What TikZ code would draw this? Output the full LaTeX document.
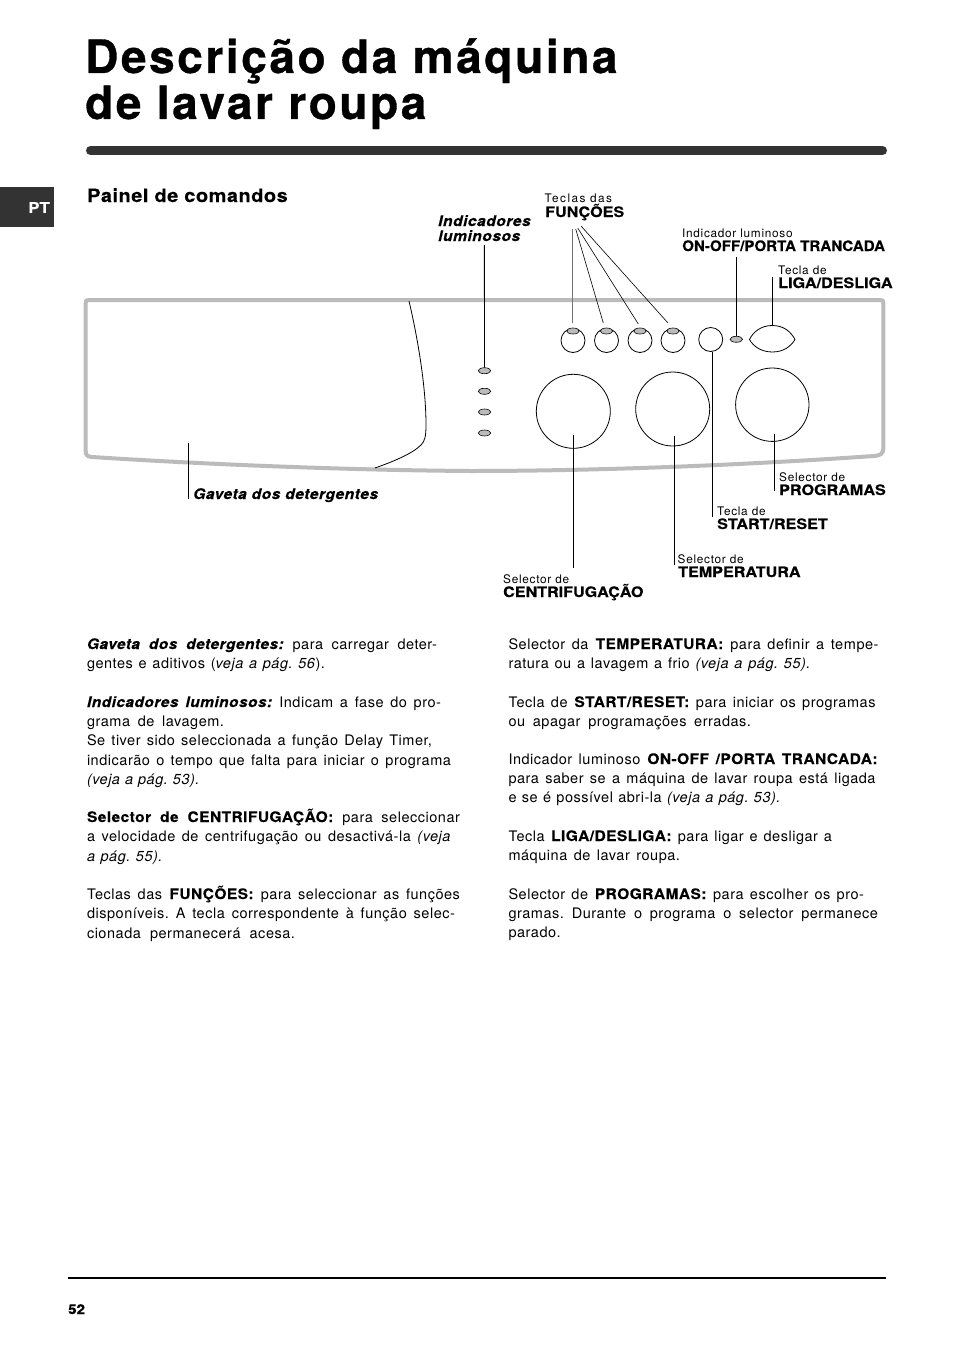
\documentclass[tikz,border=0pt]{standalone}
\usepackage{fontspec}
\usetikzlibrary{shapes.geometric}
\setmainfont{TeX Gyre Heros}[LetterSpace=3.6,BoldFeatures={FakeStretch=1.07,LetterSpace=3,FakeBold=0.2},BoldItalicFeatures={FakeStretch=1.07,LetterSpace=3,FakeBold=0.1}]
\newfontfamily\lblfont{TeX Gyre Heros}[LetterSpace=6]
\newfontfamily\widelbl{TeX Gyre Heros}[LetterSpace=12]
\newfontfamily\strongfont{TeX Gyre Heros}[FakeStretch=1.12,FakeBold=0.35]
\newfontfamily\tightfont{TeX Gyre Heros}[FakeStretch=1.05,FakeBold=0.35]
\newfontfamily\headfont{TeX Gyre Heros}[FakeStretch=1.075,FakeBold=0.1,LetterSpace=3]
\newfontfamily\titlefont{TeX Gyre Heros}[LetterSpace=5.6,FakeBold=0.7]
\definecolor{panelgray}{HTML}{BBBBBB}
\definecolor{ruledark}{HTML}{333333}
\frenchspacing
\newcommand{\bi}[1]{\textbf{\textit{#1}}}
\newcommand{\bl}[1]{\textbf{#1}}
\newcommand{\itl}[1]{\textit{#1}}
\newcommand{\tl}[5]{\node[bodyline] (#1) at (#2,#3) {\makebox[#4pt][s]{#5}};}
\tikzset{
  x=1pt,y=-1pt,
  bodyline/.style={anchor=base west,inner sep=0pt,outer sep=0pt,font=\fontsize{14.5}{17}\selectfont\frenchspacing},
  small/.style={anchor=base west,inner sep=0pt,font=\lblfont\fontsize{11.8}{13}\selectfont},
  strong/.style={anchor=base west,inner sep=0pt,font=\strongfont\bfseries\fontsize{14.4}{16}\selectfont},
  bolditalic/.style={anchor=base west,inner sep=0pt,font=\headfont\bfseries\itshape\fontsize{14.6}{16}\selectfont},
  callout/.style={draw=black,line width=0.9pt},
  thinline/.style={draw=black,line width=0.6pt},
  dial/.style={circle,draw=black,line width=0.8pt,inner sep=0pt,fill=none},
  led/.style={ellipse,draw=black,line width=0.6pt,fill=panelgray,inner sep=0pt,minimum width=12.5pt,minimum height=6pt},
}
\begin{document}
\begin{tikzpicture}
\useasboundingbox (0,0) rectangle (954,1351);
% title
\node[anchor=base west,inner sep=0pt,font=\titlefont\bfseries\fontsize{46}{50}\selectfont] (title1) at (85,73) {Descrição da máquina};
\node[anchor=base west,inner sep=0pt,font=\titlefont\bfseries\fontsize{46}{50}\selectfont] (title2) at (85,119) {de lavar roupa};
\draw[ruledark,line width=9pt,line cap=round] (90.5,150.5) -- (882.5,150.5);
% side tab
\node[anchor=north west,fill=ruledark,minimum width=54pt,minimum height=40pt,inner sep=0pt] (tab) at (0,187) {};
\node[font=\strongfont\bfseries\fontsize{15}{16}\selectfont,text=white,inner sep=0pt] (tabtext) at (39,207.5) {PT};
\node[anchor=base west,inner sep=0pt,font=\headfont\bfseries\fontsize{18.5}{20}\selectfont] (painel) at (87,202) {Painel de comandos};
% panel
\draw[panelgray,line width=4pt,line join=round]
  (85.7,303) .. controls (85.7,300.5) and (86,300) .. (89,300) -- (880,300)
  .. controls (883,300) and (883.4,300.5) .. (883.4,303) -- (883.4,448)
  .. controls (883.4,454) and (880,455.5) .. (874,456)
  .. controls (700,468) and (560,471) .. (470,471)
  .. controls (340,470) and (200,464) .. (92,457)
  .. controls (87,456.5) and (85.7,455) .. (85.7,451) -- cycle;
% drawer
\draw[black,line width=0.8pt] (409,301) .. controls (417,335) and (426,385) .. (426,425)
  .. controls (426,436) and (425,441) .. (421,445)
  .. controls (412,454) and (392,462) .. (375,468);
% dials
\node[dial,minimum size=74pt] (dialA) at (573.3,411.3) {};
\node[dial,minimum size=74pt] (dialB) at (672.7,409) {};
\node[dial,minimum size=73.4pt] (dialC) at (772.3,404.7) {};
% buttons
\foreach \n/\cx in {1/573,2/606.5,3/640,4/673}{
  \node[dial,minimum size=24pt] (btn\n) at (\cx,340.5) {};
  \node[led] (fled\n) at (\cx,331) {};
}
\node[dial,minimum size=24pt] (startbtn) at (710.7,339.5) {};
\node[led] (onled) at (736.3,339.3) {};
\draw[black,line width=0.8pt] (749.5,339.5) .. controls (753,332) and (761,325.5) .. (772.3,325.5)
  .. controls (784,325.5) and (791,332) .. (795,339.5)
  .. controls (791,346) and (784,352) .. (772.3,352)
  .. controls (761,352) and (753,346) .. cycle;
% indicators
\foreach \n/\cy in {1/370.7,2/391.3,3/412,4/433}{
  \node[led] (iled\n) at (484.5,\cy) {};
}
% callouts coordinates
\coordinate (cGa) at (188.3,443); \coordinate (cGb) at (188.3,499);
\coordinate (cIa) at (484.4,245);
\coordinate (f1a) at (572,229); \coordinate (f1b) at (572,323);
\coordinate (f2a) at (575.7,229); \coordinate (f2b) at (603.3,323);
\coordinate (f3a) at (577.7,228); \coordinate (f3b) at (638.3,324);
\coordinate (f4a) at (581,226); \coordinate (f4b) at (668,323);
\coordinate (onA) at (736.5,257);
\coordinate (liA) at (772,277); \coordinate (liB) at (772,325);
\coordinate (stA) at (712.3,352); \coordinate (stB) at (712.3,516.5);
\coordinate (ceA) at (573.5,435); \coordinate (ceB) at (573.5,568);
\coordinate (teA) at (674,436); \coordinate (teB) at (674,565);
\coordinate (prB) at (774.5,491); \coordinate (prA) at (774.5,434);
\draw[callout,line width=0.7pt] (cGa) -- (cGb);
\draw[callout] (cIa) -- (iled1.north);
\draw[draw=black!55,line width=0.8pt] (f1a) -- (f1b);
\draw[thinline] (f2a) -- (f2b);
\draw[thinline] (f3a) -- (f3b);
\draw[thinline] (f4a) -- (f4b);
\draw[callout] (onA) -- (onA |- onled.north);
\draw[callout] (liA) -- (liB);
\draw[callout] (stA) -- (stB);
\draw[callout] (ceA) -- (ceB);
\draw[callout] (teA) -- (teB);
\draw[callout] (prA) -- (prB);
% labels
\node[bolditalic] (indA) at (438,226) {Indicadores};
\node[bolditalic] (indB) at (438,241) {luminosos};
\node[bolditalic] (gav) at (193,499) {Gaveta dos detergentes};
\node[small,font=\widelbl\fontsize{11.8}{13}\selectfont] (fnA) at (544.5,203) {Teclas das};
\node[strong] (fnB) at (545,217) {FUNÇÕES};
\node[small] (onT) at (682,237) {Indicador luminoso};
\node[strong,font=\tightfont\bfseries\fontsize{14.4}{16}\selectfont] (onU) at (682,251) {ON-OFF/PORTA TRANCADA};
\node[small] (liT) at (778,274) {Tecla de};
\node[strong] (liU) at (778,288) {LIGA/DESLIGA};
\node[small] (prT) at (779,481) {Selector de};
\node[strong] (prU) at (779,495) {PROGRAMAS};
\node[small] (stT) at (717,515) {Tecla de};
\node[strong] (stU) at (717,529) {START/RESET};
\node[small] (teT) at (677.5,563) {Selector de};
\node[strong] (teU) at (678,577) {TEMPERATURA};
\node[small] (ceT) at (503,583) {Selector de};
\node[strong] (ceU) at (503,597) {CENTRIFUGAÇÃO};
% left column
\tl{a1}{87}{649}{350}{\bi{Gaveta dos detergentes:} para carregar deter-}
\tl{a2}{87}{668}{238}{gentes e aditivos (\itl{veja a pág. 56}).}
\tl{a3}{87}{707}{354}{\bi{Indicadores luminosos:} Indicam a fase do pro-}
\tl{a4}{87}{726}{137}{grama de lavagem.}
\tl{a5}{87}{745}{345}{Se tiver sido seleccionada a função Delay Timer,}
\tl{a6}{87}{765}{364}{indicarão o tempo que falta para iniciar o programa}
\tl{a7}{87}{784}{113}{\itl{(veja a pág. 53).}}
\tl{a8}{87}{822}{373}{\bl{Selector de CENTRIFUGAÇÃO:} para seleccionar}
\tl{a9}{87}{841}{364}{a velocidade de centrifugação ou desactivá-la \itl{(veja}}
\tl{a10}{87}{861}{76}{\itl{a pág. 55).}}
\tl{a11}{87}{899}{373}{Teclas das \bl{FUNÇÕES:} para seleccionar as funções}
\tl{a12}{87}{918}{368}{disponíveis. A tecla correspondente à função selec-}
\tl{a13}{87}{938}{208}{cionada permanecerá acesa.}
% right column
\tl{b1}{508.5}{649}{370}{Selector da \bl{TEMPERATURA:} para definir a tempe-}
\tl{b2}{508.5}{668}{302.5}{ratura ou a lavagem a frio \itl{(veja a pág. 55).}}
\tl{b3}{508.5}{707}{367}{Tecla de \bl{START/RESET:} para iniciar os programas}
\tl{b4}{508.5}{726}{242.5}{ou apagar programações erradas.}
\tl{b5}{508.5}{764}{369.5}{Indicador luminoso \bl{ON-OFF /PORTA TRANCADA:}}
\tl{b6}{508.5}{783}{367}{para saber se a máquina de lavar roupa está ligada}
\tl{b7}{508.5}{802}{272.5}{e se é possível abri-la \itl{(veja a pág. 53).}}
\tl{b8}{508.5}{841}{323.5}{Tecla \bl{LIGA/DESLIGA:} para ligar e desligar a}
\tl{b9}{508.5}{860}{171.5}{máquina de lavar roupa.}
\tl{b10}{508.5}{899}{355.5}{Selector de \bl{PROGRAMAS:} para escolher os pro-}
\tl{b11}{508.5}{918}{369.5}{gramas. Durante o programa o selector permanece}
\tl{b12}{508.5}{937}{54.5}{parado.}
% footer
\draw[black,line width=2pt] (68,1277.5) -- (886,1277.5);
\node[anchor=base west,inner sep=0pt,font=\strongfont\bfseries\fontsize{13.5}{15}\selectfont] (pageno) at (68,1314) {52};
\end{tikzpicture}
\end{document}
